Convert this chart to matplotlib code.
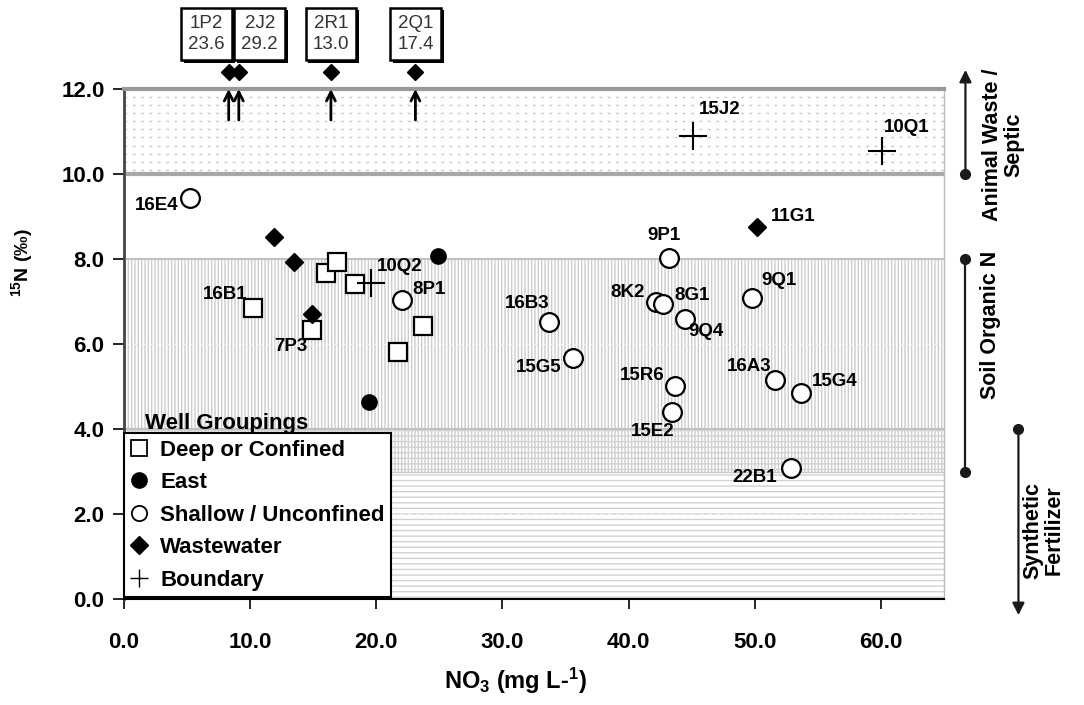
import numpy as np
import matplotlib
matplotlib.use('Agg')
import matplotlib.pyplot as plt
from matplotlib.lines import Line2D
import matplotlib.patheffects as pe

plt.rcParams['font.family'] = ['Liberation Sans', 'DejaVu Sans']
plt.rcParams['font.weight'] = 'bold'
plt.rcParams['mathtext.fontset'] = 'custom'
plt.rcParams['mathtext.rm'] = 'Liberation Sans:bold'
plt.rcParams['mathtext.bf'] = 'Liberation Sans:bold'
plt.rcParams['mathtext.it'] = 'Liberation Sans:bold'
plt.rcParams['hatch.linewidth'] = 1.0

# ---------------- data ----------------
deep_names = ['16B1', '7P3', '', '', '', '', '']
deep_x = [10.2, 14.9, 16.0, 16.9, 18.3, 21.7, 23.7]
deep_y = [6.85, 6.33, 7.67, 7.93, 7.41, 5.81, 6.42]

east_x = [24.9, 19.4]
east_y = [8.07, 4.64]

shallow_names = ['16E4', '8P1', '9P1', '8K2', '8G1', '9Q4', '9Q1', '16B3',
                 '15G5', '15R6', '15E2', '16A3', '15G4', '22B1']
shallow_x = [5.2, 22.0, 43.2, 42.2, 42.7, 44.5, 49.8, 33.7, 35.6, 43.7, 43.4, 51.6, 53.7, 52.9]
shallow_y = [9.44, 7.04, 8.02, 6.99, 6.94, 6.59, 7.08, 6.52, 5.67, 5.01, 4.40, 5.15, 4.85, 3.08]

waste_names = ['', '', '', '11G1']
waste_x = [11.9, 13.5, 14.9, 50.2]
waste_y = [8.52, 7.93, 6.71, 8.75]

offscale_names = ['1P2', '2J2', '2R1', '2Q1']
offscale_x = [8.3, 9.1, 16.4, 23.1]
offscale_y = [23.6, 29.2, 13.0, 17.4]

bound_names = ['10Q2', '15J2', '10Q1']
bound_x = [19.6, 45.1, 60.1]
bound_y = [7.44, 10.9, 10.54]

legend_labels = ['Deep or Confined', 'East', 'Shallow / Unconfined', 'Wastewater', 'Boundary']
source_ranges = {'Animal Waste /\nSeptic': (10.0, 12.0),
                 'Soil Organic N': (3.0, 8.0),
                 'Synthetic\nFertilizer': (0.0, 4.0)}
x_ticks = [0, 10, 20, 30, 40, 50, 60]
y_ticks = [0, 2, 4, 6, 8, 10, 12]

# label placement (ha, dx px, dy px)
label_pos = {
    '16E4': ('right', -11, -8), '16B1': ('right', -5, 13), '7P3': ('right', -4, -17),
    '10Q2': ('left', 6, 16), '8P1': ('left', 11, 10), '15J2': ('left', 6, 26),
    '10Q1': ('left', 2, 24), '11G1': ('left', 14, 11), '9P1': ('center', -5, 23),
    '9Q1': ('left', 9, 18), '8K2': ('right', -12, 9), '8G1': ('left', 12, 9),
    '9Q4': ('left', 3, -13), '16B3': ('right', 0, 18), '15G5': ('right', -12, -9),
    '15R6': ('right', -11, 11), '15E2': ('right', 3, -19), '16A3': ('right', -3, 14),
    '15G4': ('left', 10, 11), '22B1': ('right', -14, -9),
}

W, H = 1084, 705
fig = plt.figure(figsize=(W / 100, H / 100), dpi=100)
ax = fig.add_axes([124 / W, 106 / H, 820 / W, 510 / H])
ax.set_xlim(0, 65)
ax.set_ylim(0, 12)

# ---------------- background zones ----------------
ax.axhspan(10, 12, facecolor='white', lw=0, zorder=0)
for yy in np.arange(10.1, 12.0, 0.19):
    ax.axhline(yy, color='#c8c8c8', lw=1.0, ls=(0, (2, 4)), zorder=0.5)
lo, hi = source_ranges['Soil Organic N']
ax.axhspan(lo, hi, facecolor='white', edgecolor='#cdcdcd', hatch='|||||', lw=0, zorder=0.2)
lo, hi = source_ranges['Synthetic\nFertilizer']
ax.axhspan(lo, hi, facecolor='none', edgecolor='#d2d2d2', hatch='---', lw=0, zorder=0.3)
for yy in y_ticks[1:-1]:
    ax.axhline(yy, color='#f4f4f4', lw=1.0, ls=(0, (3, 3)), zorder=0.6)
ax.axhline(10, color='#a8a8a8', lw=3, zorder=0.7)
ax.axhline(8, color='#c0c0c0', lw=1.5, zorder=0.7)
ax.axhline(4, color='#c0c0c0', lw=1.5, zorder=0.7)
ax.axhline(3, color='#c8c8c8', lw=1.0, zorder=0.7)

# ---------------- points ----------------
ax.plot(deep_x, deep_y, ls='none', marker='s', ms=13, mfc='white', mec='black', mew=1.6, zorder=3)
ax.plot(east_x, east_y, ls='none', marker='o', ms=11, mfc='black', mec='black', zorder=3)
ax.plot(shallow_x, shallow_y, ls='none', marker='o', ms=13.5, mfc='white', mec='black', mew=1.6, zorder=3)
ax.plot(waste_x, waste_y, ls='none', marker='D', ms=9, mfc='black', mec='black', zorder=3)
ax.plot(bound_x, bound_y, ls='none', marker='+', ms=20, mec='black', mew=1.5, zorder=3)

def put_labels(names, xs, ys):
    for n, x, y in zip(names, xs, ys):
        if not n:
            continue
        ha, dx, dy = label_pos[n]
        ax.annotate(n, (x, y), xytext=(dx * 0.72, dy * 0.72), textcoords='offset points',
                    ha=ha, va='center', fontsize=13.5, fontweight='bold', zorder=4)

put_labels(deep_names, deep_x, deep_y)
put_labels(shallow_names, shallow_x, shallow_y)
put_labels(waste_names, waste_x, waste_y)
put_labels(bound_names, bound_x, bound_y)

# ---------------- off-scale wastewater wells ----------------
top = ax.get_ylim()[1]
box_dx = {'1P2': -22, '2J2': 21, '2R1': 0, '2Q1': 0}
for n, x, v in zip(offscale_names, offscale_x, offscale_y):
    ax.plot([x], [top + 0.4], ls='none', marker='D', ms=8, mfc='black', mec='black',
            clip_on=False, zorder=5)
    ax.annotate('', xy=(x, top), xytext=(x, top - 0.73),
                arrowprops=dict(arrowstyle='->', lw=2, color='black', mutation_scale=16,
                                shrinkA=0, shrinkB=0), zorder=5)
    t = ax.annotate(f'{n}\n{v:.1f}', xy=(x, 1.0), xycoords=('data', 'axes fraction'),
                    xytext=(box_dx[n] * 0.72, 55 * 0.72), textcoords='offset points',
                    ha='center', va='center', fontsize=13.5, fontweight='normal', color='#333',
                    linespacing=1.35, annotation_clip=False,
                    bbox=dict(boxstyle='square,pad=0.38', fc='white', ec='black', lw=1.8))
    t.get_bbox_patch().set_path_effects([pe.SimplePatchShadow(offset=(2, -2), shadow_rgbFace='black', alpha=1),
                                         pe.Normal()])

# ---------------- source range arrows (right side) ----------------
lc = '#1a1a1a'
lo, hi = source_ranges['Animal Waste /\nSeptic']
ax.annotate('', xy=(66.7, hi + 0.45), xytext=(66.7, lo),
            arrowprops=dict(arrowstyle='-|>', lw=1.6, color=lc, mutation_scale=18, shrinkA=0, shrinkB=0),
            annotation_clip=False)
ax.plot([66.7], [lo], 'o', ms=7, color=lc, clip_on=False)
lo, hi = source_ranges['Soil Organic N']
ax.plot([66.7, 66.7], [lo, hi], '-o', lw=1.6, ms=7, color=lc, clip_on=False)
lo, hi = source_ranges['Synthetic\nFertilizer']
ax.annotate('', xy=(70.9, lo - 0.38), xytext=(70.9, hi),
            arrowprops=dict(arrowstyle='-|>', lw=1.6, color=lc, mutation_scale=18, shrinkA=0, shrinkB=0),
            annotation_clip=False)
ax.plot([70.9], [hi], 'o', ms=7, color=lc, clip_on=False)

ax.text(69.7, 10.68, 'Animal Waste /\nSeptic', rotation=90, ha='center', va='center',
        fontsize=15.5, fontweight='bold', clip_on=False, linespacing=1.0)
ax.text(68.7, 6.45, 'Soil Organic N', rotation=90, ha='center', va='center',
        fontsize=15.5, fontweight='bold', clip_on=False)
ax.text(72.9, 1.62, 'Synthetic\nFertilizer', rotation=90, ha='center', va='center',
        fontsize=15.5, fontweight='bold', clip_on=False, linespacing=1.0)

# ---------------- legend ----------------
handles = [
    Line2D([], [], ls='none', marker='s', ms=11, mfc='white', mec='black', mew=1.3),
    Line2D([], [], ls='none', marker='o', ms=11, mfc='black', mec='black'),
    Line2D([], [], ls='none', marker='o', ms=11, mfc='white', mec='black', mew=1.3),
    Line2D([], [], ls='none', marker='D', ms=9, mfc='black', mec='black'),
    Line2D([], [], ls='none', marker='+', ms=13, mec='black', mew=1.0),
]
leg = ax.legend(handles, legend_labels, loc='lower left', bbox_to_anchor=(0.0, 0.004),
                borderaxespad=0, frameon=True, fancybox=False, edgecolor='black', framealpha=1,
                prop={'size': 16, 'weight': 'bold'}, handlelength=0.8, handletextpad=0.55,
                labelspacing=0.52, borderpad=0.28)
leg.get_frame().set_linewidth(1.5)
leg.set_zorder(6)
ax.text(0.026, 0.345, 'Well Groupings', transform=ax.transAxes, fontsize=16, fontweight='bold',
        ha='left', va='center', zorder=7)

# ---------------- axes ----------------
ax.set_xticks(x_ticks)
ax.set_xticklabels([f'{v:.1f}' for v in x_ticks])
ax.set_yticks(y_ticks)
ax.set_yticklabels([f'{v:.1f}' for v in y_ticks])
ax.tick_params(axis='x', direction='out', length=7, width=1.2, pad=17, labelsize=16, colors='black')
ax.tick_params(axis='y', direction='out', length=8, width=1.2, pad=6, labelsize=16)
for lab in ax.get_xticklabels() + ax.get_yticklabels():
    lab.set_fontweight('bold')
ax.spines['left'].set_color('#444444'); ax.spines['left'].set_linewidth(2)
ax.spines['bottom'].set_color('black'); ax.spines['bottom'].set_linewidth(1.5)
ax.spines['top'].set_color('#999999'); ax.spines['top'].set_linewidth(3)
ax.spines['right'].set_color('#bbbbbb'); ax.spines['right'].set_linewidth(1)

ax.set_xlabel('NO$_3$ (mg L-$^1$)', fontsize=17, fontweight='bold')
ax.xaxis.set_label_coords(0.478, -0.13)
ax.set_ylabel('$^{15}$N (‰)', fontsize=14, fontweight='bold')
ax.yaxis.set_label_coords(-0.108, 0.66)

fig.savefig('out.png', dpi=100)
